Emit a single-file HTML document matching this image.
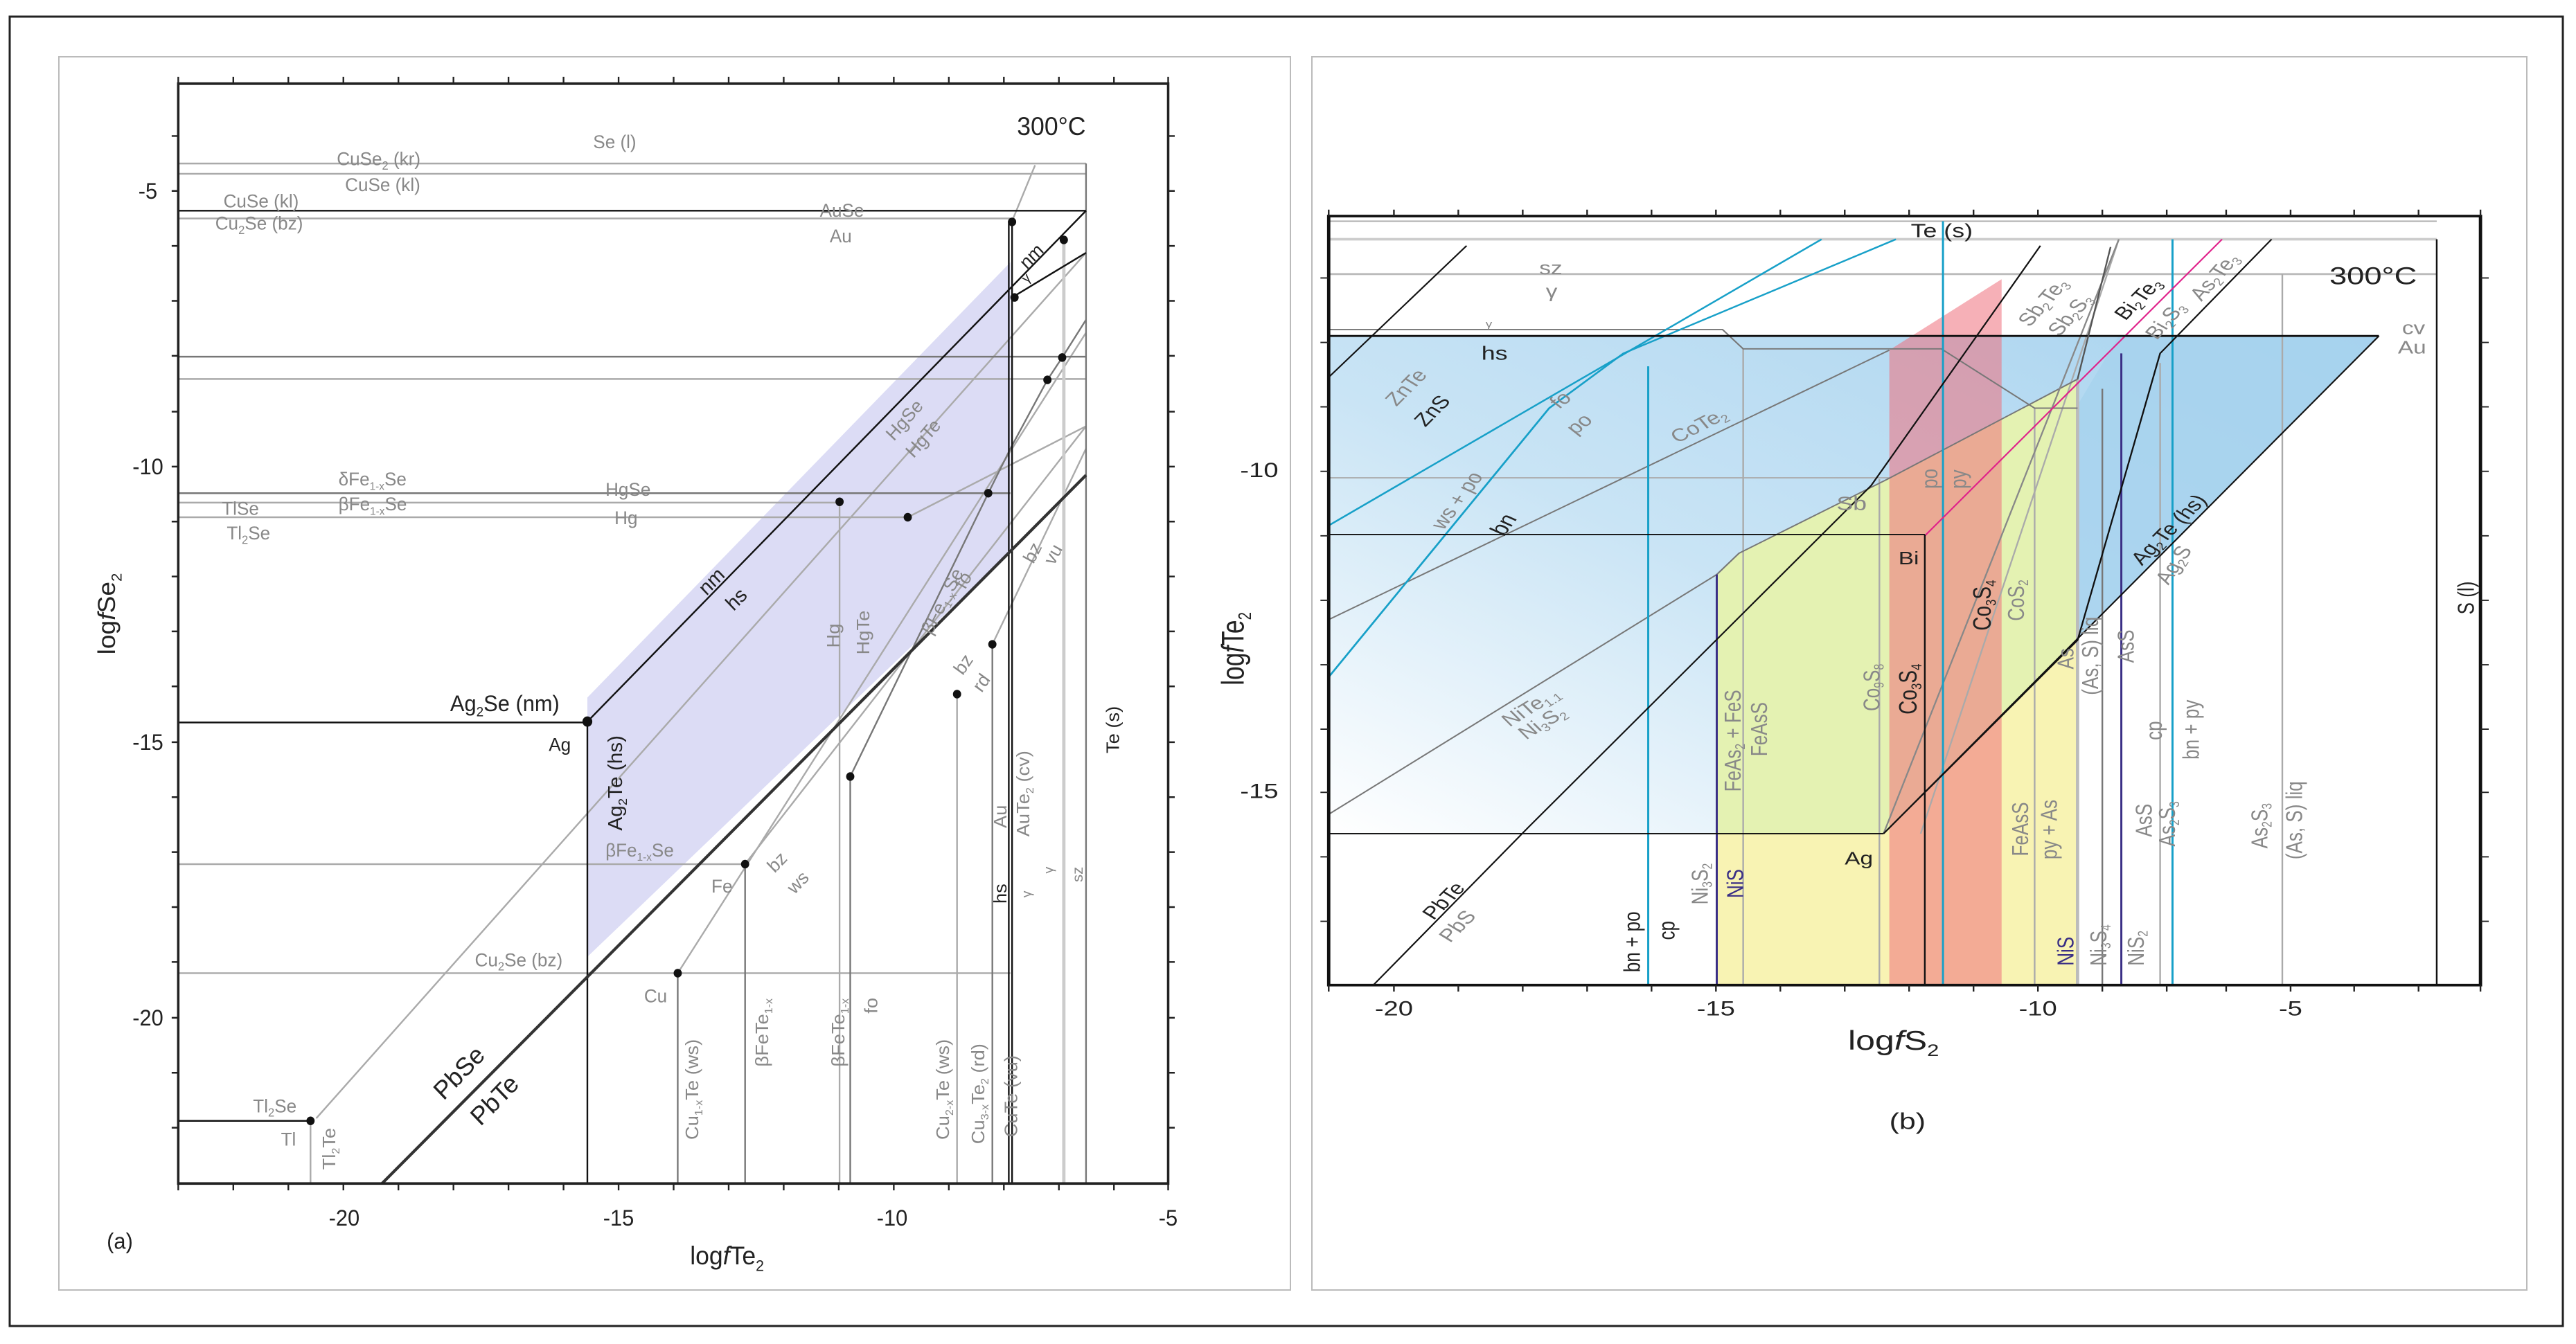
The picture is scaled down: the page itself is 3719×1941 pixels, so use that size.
<!DOCTYPE html>
<html><head><meta charset="utf-8">
<style>
html,body{margin:0;padding:0;background:#fff;overflow:hidden;}
svg{display:block;}
text{font-family:"Liberation Sans","DejaVu Sans",sans-serif;}
</style></head><body>
<svg width="3719" height="1941" viewBox="0 0 3719 1941" xmlns="http://www.w3.org/2000/svg">
<defs>
<linearGradient id="bg" x1="0" y1="1" x2="1" y2="0" gradientUnits="objectBoundingBox">
<stop offset="0" stop-color="#ffffff"/>
<stop offset="0.45" stop-color="#c9e4f5"/>
<stop offset="1" stop-color="#a8d3ef"/>
</linearGradient>
</defs>
<rect x="14" y="24" width="3686" height="1891" fill="none" stroke="#222" stroke-width="3"/>
<rect x="85" y="82" width="1778" height="1781" fill="none" stroke="#bbb" stroke-width="2"/>
<rect x="1894" y="82" width="1754" height="1781" fill="none" stroke="#bbb" stroke-width="2"/>

<!-- LEFT PANEL -->
<g transform="translate(0,3) scale(1.186,1.24)" fill="none">
<polygon points="715,810 1230,303 1230,640 715,1112" fill="#dcdcf5" stroke="none"/>
<g stroke="#aaa" stroke-width="2">
<line x1="217" y1="188" x2="1322" y2="188"/>
<line x1="217" y1="200" x2="1322" y2="200"/>
<line x1="217" y1="252" x2="1230" y2="252"/>
<line x1="217" y1="439" x2="1322" y2="439"/>
<line x1="217" y1="583" x2="1022" y2="583"/>
<line x1="217" y1="600" x2="1105" y2="600"/>
<line x1="217" y1="1004" x2="907" y2="1004"/>
<line x1="217" y1="1131" x2="1230" y2="1131"/>
<line x1="1165" y1="806" x2="1165" y2="1376"/>
<line x1="1022" y1="582" x2="1022" y2="1376"/>
<line x1="378" y1="1303" x2="378" y2="1376"/>
<line x1="385" y1="1300" x2="1322" y2="292"/>
<line x1="825" y1="1131" x2="1322" y2="385"/>
<line x1="907" y1="1004" x2="1322" y2="494"/>
<line x1="1105" y1="600" x2="1322" y2="494"/>
<line x1="1208" y1="748" x2="1322" y2="520"/>
<line x1="1232" y1="255" x2="1260" y2="190"/>
</g>
<line x1="1295" y1="277" x2="1295" y2="1376" stroke="#ccc" stroke-width="4"/>
<g stroke="#777" stroke-width="2">
<line x1="217" y1="413" x2="1322" y2="413"/>
<line x1="217" y1="572" x2="1230" y2="572"/>
<line x1="1322" y1="188" x2="1322" y2="1376"/>
<line x1="1208" y1="748" x2="1208" y2="1376"/>
<line x1="1035" y1="902" x2="1035" y2="1376"/>
<line x1="907" y1="1004" x2="907" y2="1376"/>
<line x1="825" y1="1131" x2="825" y2="1376"/>
<polyline points="1035,902 1203,572 1230,520 1275,440 1293,414 1322,370"/>
</g>
<g stroke="#111" stroke-width="2">
<line x1="217" y1="243" x2="1322" y2="243"/>
<line x1="217" y1="839" x2="715" y2="839"/>
<line x1="217" y1="1303" x2="378" y2="1303"/>
<line x1="1228" y1="255" x2="1228" y2="1376"/>
<line x1="1232" y1="255" x2="1232" y2="1376"/>
<line x1="715" y1="838" x2="715" y2="1376"/>
<line x1="715" y1="838" x2="1322" y2="243"/>
<line x1="1232" y1="344" x2="1322" y2="292"/>
</g>
<line x1="465" y1="1376" x2="1322" y2="551" stroke="#333" stroke-width="3.5"/>
<g fill="#111">
<circle cx="1232" cy="256" r="5"/><circle cx="1235" cy="344" r="5"/><circle cx="1295" cy="277" r="5"/>
<circle cx="1293" cy="414" r="5"/><circle cx="1275" cy="440" r="5"/><circle cx="1203" cy="572" r="5"/>
<circle cx="1105" cy="600" r="5"/><circle cx="1022" cy="582" r="5"/><circle cx="1208" cy="748" r="5"/>
<circle cx="1165" cy="806" r="5"/><circle cx="1035" cy="902" r="5"/><circle cx="907" cy="1004" r="5"/>
<circle cx="825" cy="1131" r="5"/><circle cx="715" cy="838" r="6"/><circle cx="378" cy="1303" r="5"/>
</g>
<rect x="217" y="95" width="1205" height="1281" stroke="#222" stroke-width="3"/>
<g stroke="#222" stroke-width="2">
<path d="M217,95v-8M284,95v-8M351,95v-8M418,95v-8M485,95v-8M552,95v-8M619,95v-8M686,95v-8M753,95v-8M820,95v-8M887,95v-8M954,95v-8M1021,95v-8M1088,95v-8M1155,95v-8M1222,95v-8M1289,95v-8M1356,95v-8M1422,95v-8"/>
<path d="M217,1376v8M284,1376v8M351,1376v8M418,1376v8M485,1376v8M552,1376v8M619,1376v8M686,1376v8M753,1376v8M820,1376v8M887,1376v8M954,1376v8M1021,1376v8M1088,1376v8M1155,1376v8M1222,1376v8M1289,1376v8M1356,1376v8M1422,1376v8"/>
<path d="M217,156h-8M217,220h-8M217,284h-8M217,348h-8M217,412h-8M217,477h-8M217,541h-8M217,605h-8M217,669h-8M217,733h-8M217,797h-8M217,862h-8M217,926h-8M217,990h-8M217,1054h-8M217,1118h-8M217,1183h-8M217,1247h-8M217,1311h-8"/>
<path d="M1422,156h8M1422,220h8M1422,284h8M1422,348h8M1422,412h8M1422,477h8M1422,541h8M1422,605h8M1422,669h8M1422,733h8M1422,797h8M1422,862h8M1422,926h8M1422,990h8M1422,1054h8M1422,1118h8M1422,1183h8M1422,1247h8M1422,1311h8"/>
</g>
<g fill="#222" font-size="26" stroke="none">
<text x="180" y="229" text-anchor="middle">-5</text>
<text x="180" y="550" text-anchor="middle">-10</text>
<text x="180" y="871" text-anchor="middle">-15</text>
<text x="180" y="1192" text-anchor="middle">-20</text>
<text x="419" y="1425" text-anchor="middle">-20</text>
<text x="753" y="1425" text-anchor="middle">-15</text>
<text x="1086" y="1425" text-anchor="middle">-10</text>
<text x="1422" y="1425" text-anchor="middle">-5</text>
<text x="130" y="1452">(a)</text>
<text x="840" y="1470" font-size="30">log<tspan font-style="italic">f</tspan>Te<tspan font-size="18" dy="8">2</tspan></text>
<text transform="translate(140,760) rotate(-90)" font-size="30">log<tspan font-style="italic">f</tspan>Se<tspan font-size="18" dy="8">2</tspan></text>
<text x="1238" y="155" font-size="30">300°C</text>
<text x="548" y="826" font-size="26">Ag<tspan font-size="16" dy="6">2</tspan><tspan dy="-6">Se (nm)</tspan></text>
<text x="668" y="872" font-size="22">Ag</text>
<text transform="translate(757,965) rotate(-90)" font-size="24">Ag<tspan font-size="15" dy="6">2</tspan><tspan dy="-6">Te (hs)</tspan></text>
<text transform="translate(860,692) rotate(-45)" font-size="24">nm</text>
<text transform="translate(893,710) rotate(-45)" font-size="24">hs</text>
<text transform="translate(1250,312) rotate(-45)" font-size="22">nm</text>
<text transform="translate(1250,328) rotate(-45)" font-size="16">γ</text>
<text transform="translate(540,1280) rotate(-45)" font-size="30">PbSe</text>
<text transform="translate(585,1310) rotate(-45)" font-size="30">PbTe</text>
<text transform="translate(1362,875) rotate(-90)" font-size="22">Te (s)</text>
<text transform="translate(1225,1050) rotate(-90)" font-size="22">hs</text>
</g>
<g fill="#888" font-size="22" stroke="none">
<text x="722" y="170">Se (l)</text>
<text x="410" y="190">CuSe<tspan font-size="14" dy="5">2</tspan><tspan dy="-5"> (kr)</tspan></text>
<text x="420" y="220">CuSe (kl)</text>
<text x="272" y="239">CuSe (kl)</text>
<text x="262" y="265">Cu<tspan font-size="14" dy="5">2</tspan><tspan dy="-5">Se (bz)</tspan></text>
<text x="998" y="250">AuSe</text>
<text x="1010" y="280">Au</text>
<text x="412" y="563">δFe<tspan font-size="13" dy="5">1-x</tspan><tspan dy="-5">Se</tspan></text>
<text x="412" y="592">βFe<tspan font-size="13" dy="5">1-x</tspan><tspan dy="-5">Se</tspan></text>
<text x="270" y="597">TlSe</text>
<text x="276" y="626">Tl<tspan font-size="14" dy="5">2</tspan><tspan dy="-5">Se</tspan></text>
<text x="737" y="575">HgSe</text>
<text x="748" y="608">Hg</text>
<text transform="translate(1088,512) rotate(-48)">HgSe</text>
<text transform="translate(1112,532) rotate(-48)">HgTe</text>
<text transform="translate(1134,738) rotate(-62)">βFe<tspan font-size="13" dy="5">1-x</tspan><tspan dy="-5">Se</tspan></text>
<text transform="translate(1175,685) rotate(-62)">fo</text>
<text transform="translate(1258,655) rotate(-62)">bz</text>
<text transform="translate(1283,657) rotate(-62)">vu</text>
<text transform="translate(1022,752) rotate(-90)">Hg</text>
<text transform="translate(1058,760) rotate(-90)">HgTe</text>
<text transform="translate(1172,785) rotate(-55)">bz</text>
<text transform="translate(1195,805) rotate(-55)">rd</text>
<text transform="translate(1225,962) rotate(-90)">Au</text>
<text transform="translate(1253,972) rotate(-90)">AuTe<tspan font-size="13" dy="5">2</tspan><tspan dy="-5"> (cv)</tspan></text>
<text transform="translate(1255,1043) rotate(-90)" font-size="16">γ</text>
<text transform="translate(1282,1015) rotate(-90)" font-size="16">γ</text>
<text transform="translate(1318,1025) rotate(-90)" font-size="18">sz</text>
<text x="737" y="995">βFe<tspan font-size="13" dy="5">1-x</tspan><tspan dy="-5">Se</tspan></text>
<text x="866" y="1037">Fe</text>
<text transform="translate(943,1015) rotate(-45)">bz</text>
<text transform="translate(967,1040) rotate(-45)">ws</text>
<text x="578" y="1123">Cu<tspan font-size="14" dy="5">2</tspan><tspan dy="-5">Se  (bz)</tspan></text>
<text x="784" y="1165">Cu</text>
<text transform="translate(850,1325) rotate(-90)">Cu<tspan font-size="13" dy="5">1-x</tspan><tspan dy="-5">Te (ws)</tspan></text>
<text transform="translate(935,1240) rotate(-90)">βFeTe<tspan font-size="13" dy="5">1-x</tspan></text>
<text transform="translate(1028,1240) rotate(-90)">βFeTe<tspan font-size="13" dy="5">1-x</tspan></text>
<text transform="translate(1068,1178) rotate(-90)">fo</text>
<text transform="translate(1155,1325) rotate(-90)">Cu<tspan font-size="13" dy="5">2-x</tspan><tspan dy="-5">Te (ws)</tspan></text>
<text transform="translate(1198,1330) rotate(-90)">Cu<tspan font-size="13" dy="5">3-x</tspan><tspan dy="-5">Te<tspan font-size="13" dy="5">2</tspan><tspan dy="-5"> (rd)</tspan></tspan></text>
<text transform="translate(1238,1322) rotate(-90)">CuTe (vu)</text>
<text x="308" y="1293">Tl<tspan font-size="14" dy="5">2</tspan><tspan dy="-5">Se</tspan></text>
<text x="342" y="1332">Tl</text>
<text transform="translate(408,1360) rotate(-90)">Tl<tspan font-size="13" dy="5">2</tspan><tspan dy="-5">Te</tspan></text>
</g>
</g>

<!-- RIGHT PANEL -->
<g transform="translate(1867,245) scale(1.192,0.931)" fill="none">
<polygon points="43,258 1315,258 715,1030 43,1030" fill="url(#bg)" stroke="none"/>
<polygon points="1000,258 1315,258 715,1030 640,1030" fill="#a6d2ee" stroke="none" opacity="0.8"/>
<polygon points="513,1030 715,1030 950,730 950,1265 513,1265" fill="#f8f3b3" stroke="none"/>
<polygon points="513,630 540,595 720,480 950,325 950,730 715,1030 513,1030" fill="#e4f2b2" stroke="none"/>
<polygon points="722,280 858,170 858,1265 722,1265" fill="#ef6f7c" opacity="0.55" stroke="none"/>
<g stroke="#aaa" stroke-width="2">
<line x1="43" y1="80" x2="1385" y2="80"/>
<line x1="43" y1="108" x2="1385" y2="108" stroke-width="4" stroke="#ccc"/>
<line x1="43" y1="162" x2="1385" y2="162" stroke-width="3" stroke="#bbb"/>
<line x1="43" y1="478" x2="722" y2="478"/>
<line x1="1198" y1="162" x2="1198" y2="1265"/>
<line x1="545" y1="278" x2="545" y2="1265"/>
<line x1="710" y1="480" x2="710" y2="1265"/>
<line x1="898" y1="370" x2="898" y2="1265"/>
<line x1="950" y1="325" x2="950" y2="1265" stroke-width="4" stroke="#bbb"/>
<line x1="1050" y1="300" x2="1050" y2="1265"/>
<line x1="760" y1="1030" x2="1000" y2="108"/>
</g>
<g stroke="#777" stroke-width="2">
<polyline points="43,248 520,248 545,278 785,278 898,370 950,370"/>
<line x1="43" y1="698" x2="722" y2="280"/>
<polyline points="43,1000 513,628 540,595 720,480 950,325"/>
<line x1="980" y1="340" x2="980" y2="1265"/>
<line x1="715" y1="1030" x2="1000" y2="108" stroke="#888"/>
</g>
<g stroke="#17a0c8" stroke-width="2.5">
<line x1="43" y1="552" x2="640" y2="108"/>
<polyline points="43,787 310,370 400,285 730,108"/>
<line x1="430" y1="305" x2="430" y2="1265"/>
<line x1="787" y1="80" x2="787" y2="1265"/>
<line x1="1065" y1="108" x2="1065" y2="1265"/>
</g>
<g stroke="#3a2f85" stroke-width="2.5">
<line x1="513" y1="628" x2="513" y2="1265"/>
<line x1="1003" y1="285" x2="1003" y2="1265"/>
</g>
<line x1="765" y1="568" x2="1125" y2="108" stroke="#e0208a" stroke-width="2"/>
<g stroke="#111" stroke-width="2">
<line x1="43" y1="258" x2="1315" y2="258" stroke-width="3"/>
<line x1="1315" y1="258" x2="715" y2="1030"/>
<line x1="43" y1="1030" x2="715" y2="1030"/>
<line x1="43" y1="322" x2="210" y2="118"/>
<polyline points="97,1265 285,1020 700,490 905,118"/>
<polyline points="715,1030 950,730 1050,285 1185,108"/>
<line x1="43" y1="566" x2="765" y2="566"/>
<line x1="765" y1="566" x2="765" y2="1265"/>
<line x1="1385" y1="108" x2="1385" y2="1265"/>
<line x1="990" y1="120" x2="950" y2="325" stroke="#555"/>
</g>
<rect x="43" y="72" width="1395" height="1193" stroke="#111" stroke-width="4"/>
<g stroke="#222" stroke-width="2">
<path d="M43,72v-10M122,72v-10M200,72v-10M278,72v-10M356,72v-10M434,72v-10M512,72v-10M590,72v-10M668,72v-10M746,72v-10M824,72v-10M902,72v-10M980,72v-10M1058,72v-10M1130,72v-10M1208,72v-10M1285,72v-10M1363,72v-10M1438,72v-10"/>
<path d="M43,1265v10M122,1265v10M200,1265v10M278,1265v10M356,1265v10M434,1265v10M512,1265v10M590,1265v10M668,1265v10M746,1265v10M824,1265v10M902,1265v10M980,1265v10M1058,1265v10M1130,1265v10M1208,1265v10M1285,1265v10M1363,1265v10M1438,1265v10"/>
<path d="M43,168h-10M43,268h-10M43,368h-10M43,468h-10M43,568h-10M43,668h-10M43,768h-10M43,868h-10M43,966h-10M43,1066h-10M43,1166h-10"/>
<path d="M1438,168h10M1438,268h10M1438,368h10M1438,468h10M1438,568h10M1438,668h10M1438,768h10M1438,868h10M1438,966h10M1438,1066h10M1438,1166h10"/>
</g>
<g fill="#222" font-size="32" stroke="none">
<text x="-18" y="477" text-anchor="end">-10</text>
<text x="-18" y="975" text-anchor="end">-15</text>
<text x="122" y="1312" text-anchor="middle">-20</text>
<text x="512" y="1312" text-anchor="middle">-15</text>
<text x="902" y="1312" text-anchor="middle">-10</text>
<text x="1208" y="1312" text-anchor="middle">-5</text>
<text x="672" y="1365" font-size="42">log<tspan font-style="italic">f</tspan>S<tspan font-size="26" dy="10">2</tspan></text>
<text x="722" y="1488" font-size="36">(b)</text>
<text transform="translate(-60,800) rotate(-90)" font-size="38">log<tspan font-style="italic">f</tspan>Te<tspan font-size="22" dy="9">2</tspan></text>
<text x="1255" y="178" font-size="38">300°C</text>
<text x="748" y="105" font-size="30">Te (s)</text>
<text x="228" y="295" font-size="30">hs</text>
<text x="733" y="612" font-size="28">Bi</text>
<text x="668" y="1078" font-size="28">Ag</text>
<text transform="translate(1430,690) rotate(-90)" font-size="28">S (l)</text>
<text transform="translate(160,400) rotate(-52)" font-size="28">ZnS</text>
<text transform="translate(255,570) rotate(-60)" font-size="30">bn</text>
<text transform="translate(420,1245) rotate(-90)" font-size="28">bn + po</text>
<text transform="translate(462,1195) rotate(-90)" font-size="28">cp</text>
<text transform="translate(170,1165) rotate(-52)" font-size="28">PbTe</text>
<text transform="translate(845,715) rotate(-90)" font-size="30">Co<tspan font-size="18" dy="6">3</tspan><tspan dy="-6">S</tspan><tspan font-size="18" dy="6">4</tspan></text>
<text transform="translate(755,845) rotate(-90)" font-size="30">Co<tspan font-size="18" dy="6">3</tspan><tspan dy="-6">S</tspan><tspan font-size="18" dy="6">4</tspan></text>
<text transform="translate(1028,615) rotate(-52)" font-size="28">Ag<tspan font-size="17" dy="5">2</tspan><tspan dy="-5">Te (hs)</tspan></text>
<text transform="translate(1008,235) rotate(-52)" font-size="28">Bi<tspan font-size="17" dy="5">2</tspan><tspan dy="-5">Te<tspan font-size="17" dy="5">3</tspan></tspan></text>
</g>
<g fill="#3a2f85" font-size="28" stroke="none">
<text transform="translate(545,1130) rotate(-90)">NiS</text>
<text transform="translate(945,1235) rotate(-90)">NiS</text>
</g>
<g fill="#888" font-size="28" stroke="none">
<text x="298" y="162">sz</text>
<text x="306" y="198">γ</text>
<text x="233" y="245" font-size="16">γ</text>
<text transform="translate(125,368) rotate(-52)">ZnTe</text>
<text transform="translate(322,372) rotate(-45)">fo</text>
<text transform="translate(342,412) rotate(-45)">po</text>
<text transform="translate(182,560) rotate(-60)">ws + po</text>
<text transform="translate(465,425) rotate(-33)">CoTe<tspan font-size="17" dy="5">2</tspan></text>
<text x="658" y="528" font-size="30">Sb</text>
<text transform="translate(780,495) rotate(-90)">po</text>
<text transform="translate(815,495) rotate(-90)">py</text>
<text transform="translate(892,245) rotate(-55)">Sb<tspan font-size="17" dy="5">2</tspan><tspan dy="-5">Te<tspan font-size="17" dy="5">3</tspan></tspan></text>
<text transform="translate(928,260) rotate(-55)">Sb<tspan font-size="17" dy="5">2</tspan><tspan dy="-5">S<tspan font-size="17" dy="5">3</tspan></tspan></text>
<text transform="translate(1046,265) rotate(-55)">Bi<tspan font-size="17" dy="5">2</tspan><tspan dy="-5">S<tspan font-size="17" dy="5">3</tspan></tspan></text>
<text transform="translate(1100,205) rotate(-55)">As<tspan font-size="17" dy="5">2</tspan><tspan dy="-5">Te<tspan font-size="17" dy="5">3</tspan></tspan></text>
<text x="1343" y="255">cv</text>
<text x="1338" y="285">Au</text>
<text transform="translate(885,700) rotate(-90)">CoS<tspan font-size="17" dy="5">2</tspan></text>
<text transform="translate(1060,645) rotate(-62)">Ag<tspan font-size="17" dy="5">2</tspan><tspan dy="-5">S</tspan></text>
<text transform="translate(262,865) rotate(-38)">NiTe<tspan font-size="17" dy="5">1.1</tspan></text>
<text transform="translate(282,885) rotate(-38)">Ni<tspan font-size="17" dy="5">3</tspan><tspan dy="-5">S<tspan font-size="17" dy="5">2</tspan></tspan></text>
<text transform="translate(542,965) rotate(-90)">FeAs<tspan font-size="17" dy="5">2</tspan><tspan dy="-5"> + FeS</tspan></text>
<text transform="translate(574,910) rotate(-90)">FeAsS</text>
<text transform="translate(710,840) rotate(-90)">Co<tspan font-size="17" dy="5">9</tspan><tspan dy="-5">S<tspan font-size="17" dy="5">8</tspan></tspan></text>
<text transform="translate(945,775) rotate(-90)">As</text>
<text transform="translate(975,815) rotate(-90)">(As, S) liq</text>
<text transform="translate(1018,765) rotate(-90)">AsS</text>
<text transform="translate(1052,885) rotate(-90)">cp</text>
<text transform="translate(1097,915) rotate(-90)">bn + py</text>
<text transform="translate(890,1065) rotate(-90)">FeAsS</text>
<text transform="translate(925,1070) rotate(-90)">py + As</text>
<text transform="translate(1040,1035) rotate(-90)">AsS</text>
<text transform="translate(1068,1050) rotate(-90)">As<tspan font-size="17" dy="5">2</tspan><tspan dy="-5">S<tspan font-size="17" dy="5">3</tspan></tspan></text>
<text transform="translate(1180,1053) rotate(-90)">As<tspan font-size="17" dy="5">2</tspan><tspan dy="-5">S<tspan font-size="17" dy="5">3</tspan></tspan></text>
<text transform="translate(1222,1070) rotate(-90)">(As, S) liq</text>
<text transform="translate(502,1140) rotate(-90)">Ni<tspan font-size="17" dy="5">3</tspan><tspan dy="-5">S<tspan font-size="17" dy="5">2</tspan></tspan></text>
<text transform="translate(985,1235) rotate(-90)">Ni<tspan font-size="17" dy="5">3</tspan><tspan dy="-5">S<tspan font-size="17" dy="5">4</tspan></tspan></text>
<text transform="translate(1030,1235) rotate(-90)">NiS<tspan font-size="17" dy="5">2</tspan></text>
<text transform="translate(190,1200) rotate(-52)">PbS</text>
</g>
</g>
</svg>
</body></html>
